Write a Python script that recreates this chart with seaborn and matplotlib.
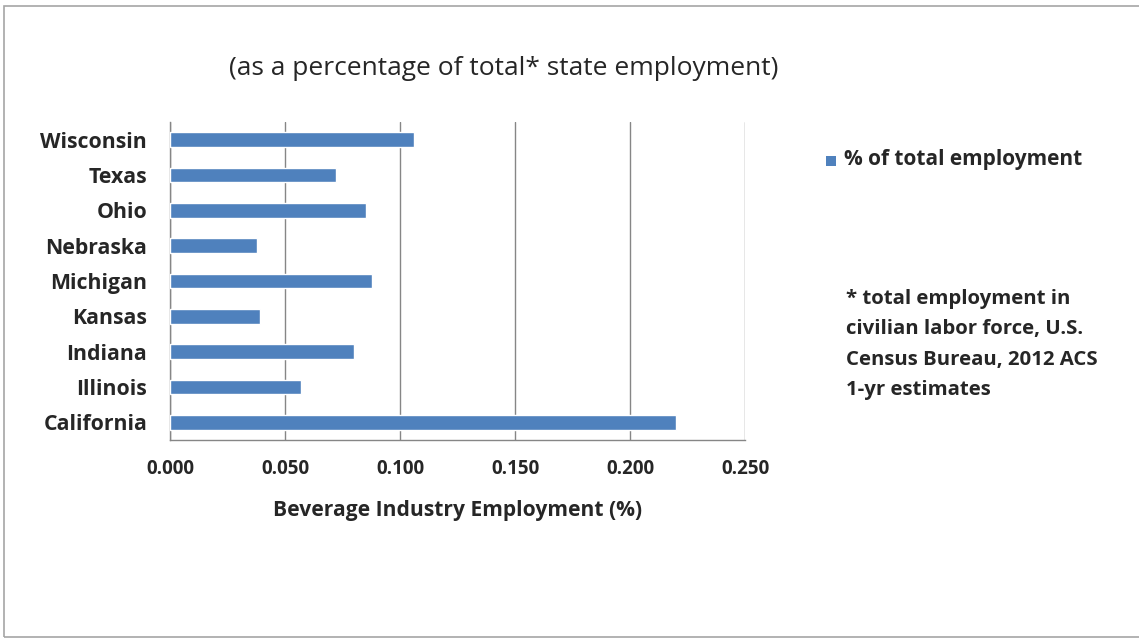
import matplotlib
matplotlib.use('Agg')
import matplotlib.pyplot as plt
import seaborn as sns
import pandas as pd
from matplotlib.patches import Rectangle
from matplotlib.ticker import FixedLocator

# data (top to bottom)
states = ['Wisconsin', 'Texas', 'Ohio', 'Nebraska', 'Michigan',
          'Kansas', 'Indiana', 'Illinois', 'California']
pct_employment = [0.106, 0.072, 0.085, 0.038, 0.088, 0.039, 0.080, 0.057, 0.220]
x_ticks = [0.0, 0.05, 0.10, 0.15, 0.20, 0.25]

df = pd.DataFrame({'State': states, 'Pct': pct_employment})

sns.set_style('white')
plt.rcParams['font.family'] = ['Open Sans', 'DejaVu Sans']

fig = plt.figure(figsize=(11.39, 6.41), dpi=100)
ax = fig.add_axes([0.1493, 0.3136, 0.5048, 0.4961])

sns.barplot(data=df, x='Pct', y='State', order=states, orient='h',
            color='#4F81BD', saturation=1, width=0.42, ax=ax, zorder=3)

ax.set_xlim(0, 0.25)
ax.set_ylim(len(states) - 0.5, -0.5)
ax.set_xticks(x_ticks)
ax.set_xticklabels([f'{v:.3f}' for v in x_ticks], fontsize=13.5, fontweight='bold')
ax.set_yticks(range(len(states)))
ax.set_yticklabels(states, fontsize=15.3, fontweight='bold')
ax.tick_params(axis='y', length=0, pad=16.5)
ax.tick_params(axis='x', length=5, color='#868686', pad=9, direction='out')
ax.yaxis.set_minor_locator(FixedLocator([i - 0.5 for i in range(len(states) + 1)]))
ax.tick_params(axis='y', which='minor', length=5, color='#868686', direction='out')
ax.xaxis.grid(True, color='#868686', linewidth=1, zorder=0)
ax.set_axisbelow(True)

for side in ['top', 'right']:
    ax.spines[side].set_visible(False)
for side in ['left', 'bottom']:
    ax.spines[side].set_color('#868686')
    ax.spines[side].set_linewidth(1)

ax.set_xlabel('Beverage Industry Employment (%)', fontsize=15.1, fontweight='bold', labelpad=15)
ax.set_ylabel('')

fig.text(0.442, 0.893, '(as a percentage of total* state employment)',
         fontsize=19, ha='center', va='center')

# legend
fig.patches.append(Rectangle((826 / 1139, 1 - 166 / 641), 10 / 1139, 10 / 641,
                             transform=fig.transFigure, facecolor='#4F81BD',
                             edgecolor='none'))
fig.text(844 / 1139, 1 - 160 / 641, '% of total employment',
         fontsize=15, fontweight='bold', va='center')

# footnote
fig.text(846 / 1139, 1 - 289 / 641,
         '* total employment in\ncivilian labor force, U.S.\nCensus Bureau, 2012 ACS\n1-yr estimates',
         fontsize=14.7, fontweight='bold', va='top', linespacing=1.69)

# outer frame
fig.patches.append(Rectangle((4 / 1139, 4 / 641), 1.2, 1 - 10 / 641,
                             transform=fig.transFigure, fill=False,
                             edgecolor='#a6a6a6', linewidth=1.2))

fig.savefig('out.png', dpi=100)
